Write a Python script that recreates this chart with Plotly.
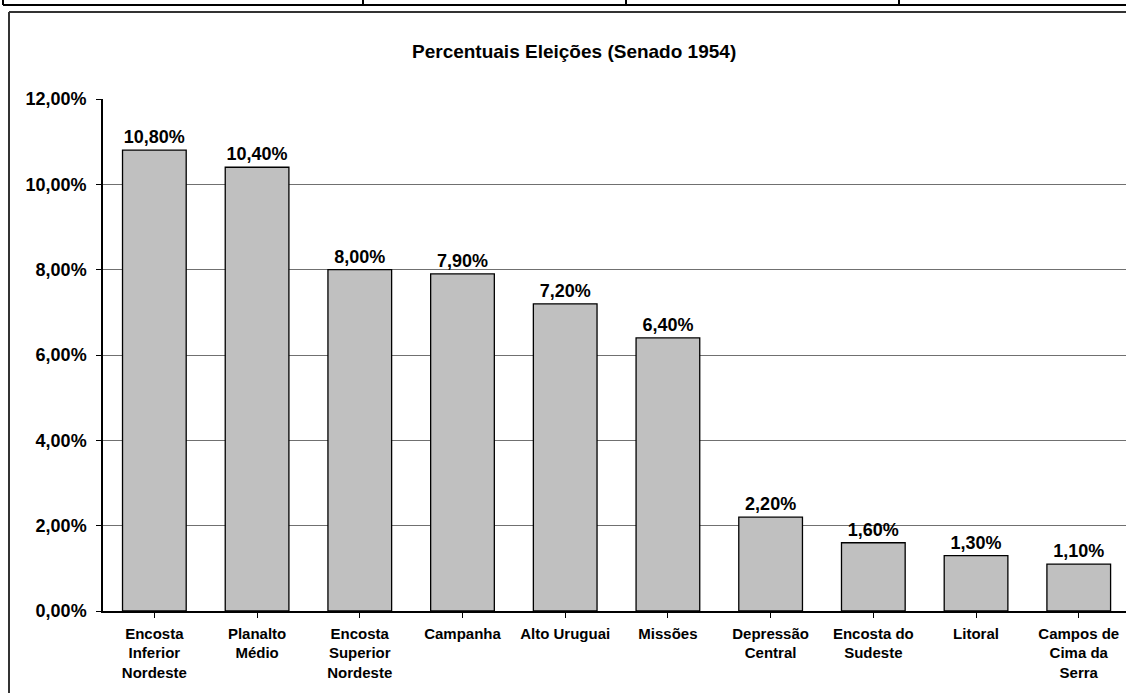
import plotly.graph_objects as go

categories = ["Encosta<br>Inferior<br>Nordeste", "Planalto<br>Médio", "Encosta<br>Superior<br>Nordeste",
              "Campanha", "Alto Uruguai", "Missões", "Depressão<br>Central", "Encosta do<br>Sudeste",
              "Litoral", "Campos de<br>Cima da<br>Serra"]
values = [10.8, 10.4, 8.0, 7.9, 7.2, 6.4, 2.2, 1.6, 1.3, 1.1]
y_ticks = [0, 2, 4, 6, 8, 10, 12]
y_tick_labels = ["0,00%", "2,00%", "4,00%", "6,00%", "8,00%", "10,00%", "12,00%"]
title_text = "Percentuais Eleições (Senado 1954)"

W, H = 1126, 693
L, T, B, R = 103, 99, 82, 0
PW, PH = W - L - R, H - T - B

def px(x):
    return (x - L) / PW

def py(y):
    return (H - B - y) / PH

FONT = "Liberation Sans, Arial, sans-serif"

fig = go.Figure()
fig.add_trace(go.Bar(
    x=list(range(len(categories))), y=values,
    marker=dict(color="#C0C0C0", line=dict(color="#000000", width=1.3)),
    width=0.62,
    texttemplate="%{y:.2f}%", textposition="outside", cliponaxis=False,
    textfont=dict(family=FONT, size=18, color="#000000", weight="bold"),
))

shapes = []
# outer chart frame (top and left edges; the rest lies outside the picture)
shapes.append(dict(type="line", xref="paper", yref="paper",
                   x0=px(9), x1=px(1126), y0=py(12), y1=py(12),
                   line=dict(color="#333333", width=2)))
shapes.append(dict(type="line", xref="paper", yref="paper",
                   x0=px(9), x1=px(9), y0=py(12), y1=py(693),
                   line=dict(color="#333333", width=2)))
# spreadsheet cell lines at the top
shapes.append(dict(type="line", xref="paper", yref="paper",
                   x0=px(3), x1=px(1126), y0=py(5), y1=py(5),
                   line=dict(color="#000000", width=2)))
for vx in [3, 363, 626, 899]:
    shapes.append(dict(type="line", xref="paper", yref="paper",
                       x0=px(vx), x1=px(vx), y0=py(0), y1=py(5),
                       line=dict(color="#000000", width=2)))

fig.update_layout(
    width=W, height=H,
    margin=dict(l=L, r=R, t=T, b=B, pad=0),
    paper_bgcolor="white", plot_bgcolor="white",
    separators=",.",
    showlegend=False,
    shapes=shapes,
    font=dict(family=FONT, color="#000000"),
    annotations=[dict(text="<b>" + title_text + "</b>", xref="paper", yref="paper",
                      x=px(574), y=py(51), xanchor="center", yanchor="middle",
                      showarrow=False, font=dict(family=FONT, size=19, color="#000000"))],
    xaxis=dict(
        tickmode="array", tickvals=list(range(len(categories))), ticktext=categories,
        range=[-0.5, 9.46], showline=True, linecolor="#000000", linewidth=1.5,
        ticks="outside", ticklen=5, tickcolor="#000000", tickson="boundaries",
        showgrid=False, zeroline=False, ticklabelstandoff=3,
        tickfont=dict(family=FONT, size=15, color="#000000", weight="bold"),
    ),
    yaxis=dict(
        range=[0, 12], tickmode="array", tickvals=y_ticks, ticktext=y_tick_labels,
        showline=True, linecolor="#000000", linewidth=1.5,
        ticks="outside", ticklen=5, tickcolor="#000000",
        showgrid=True, gridcolor="#707070", gridwidth=1, zeroline=False,
        ticklabelstandoff=6,
        tickfont=dict(family=FONT, size=18, color="#000000", weight="bold"),
    ),
)

fig.write_html("out.html")
